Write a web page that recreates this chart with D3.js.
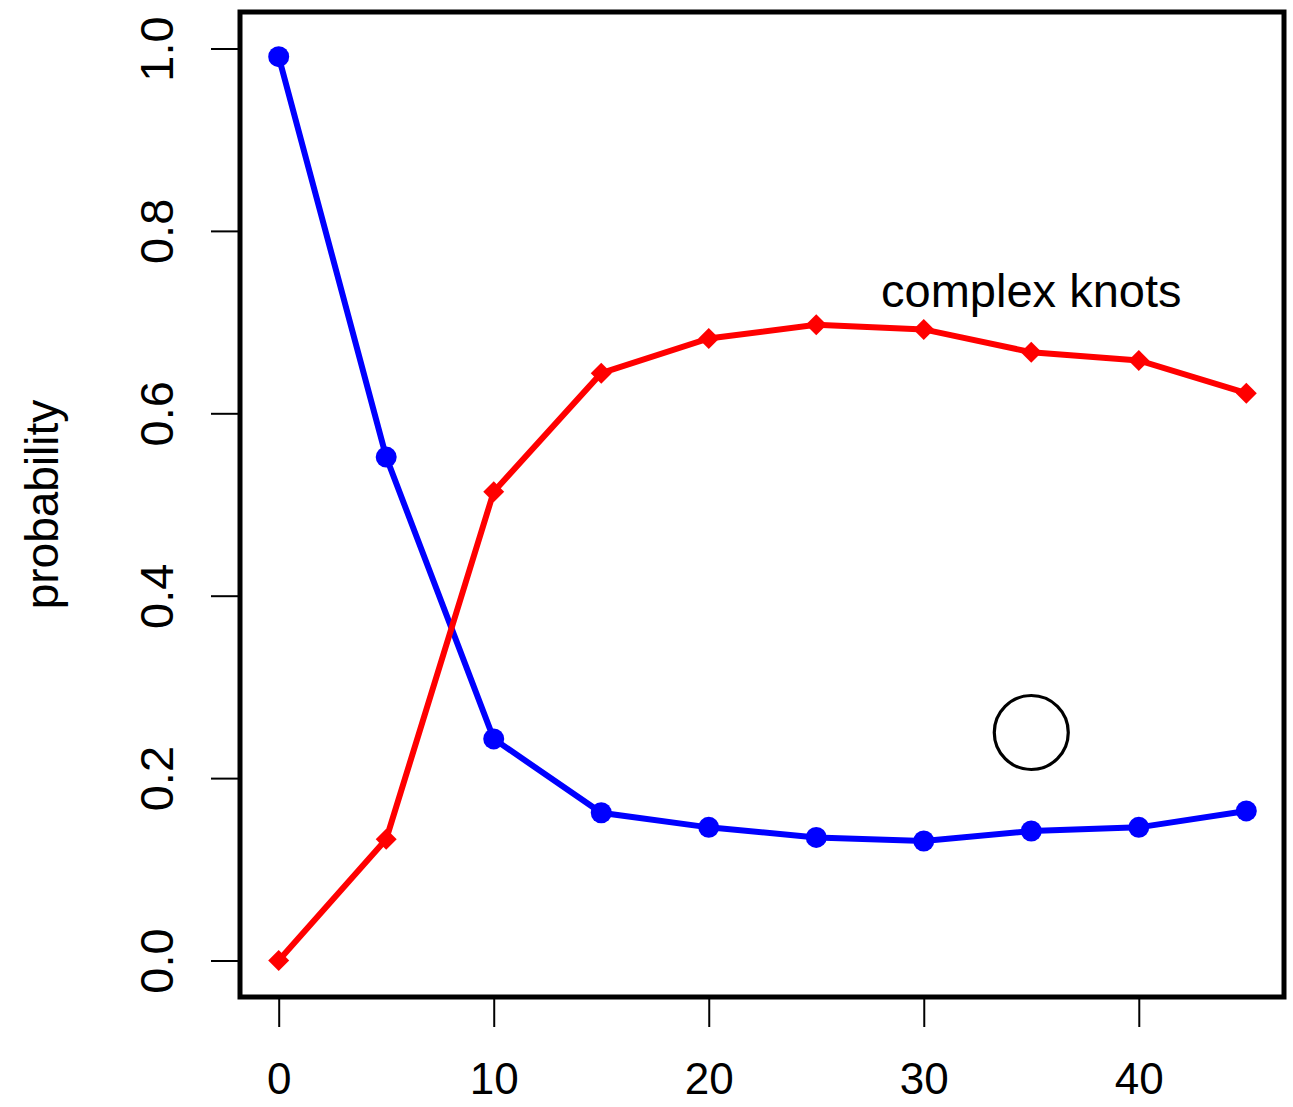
<!DOCTYPE html>
<html>
<head>
<meta charset="utf-8">
<script src="https://cdn.jsdelivr.net/npm/d3@7"></script>
<style>
  body { margin: 0; background: #fff; }
  text { font-family: 'Liberation Sans', Arial, sans-serif; fill: #000; }
</style>
</head>
<body>
<div id="chart"></div>
<script>
var steps = [0, 5, 10, 15, 20, 25, 30, 35, 40, 45];
var simple = [0.991, 0.552, 0.243, 0.162, 0.146, 0.135, 0.131, 0.142, 0.146, 0.164];
var complexKnots = [0.0, 0.133, 0.514, 0.644, 0.682, 0.697, 0.692, 0.667, 0.658, 0.622];
var xTicks = [0, 10, 20, 30, 40];
var yTicks = [0, 0.2, 0.4, 0.6, 0.8, 1.0];
var label = { text: 'complex knots', x: 35, y: 0.735 };
var marker = { x: 35, y: 0.25 };

var W = 1293, H = 1107;
var box = { left: 240, right: 1284, top: 12, bottom: 997 };

var svg = d3.select('#chart')
  .append('svg')
    .attr('width', W)
    .attr('height', H);

// R style: data range padded by 4%
var x = d3.scaleLinear().domain([-1.8, 46.8]).range([box.left, box.right + 1]);
var y = d3.scaleLinear().domain([-0.04, 1.04]).range([box.bottom, box.top]);

// x axis
var xAxis = svg.append('g')
  .attr('transform', `translate(0, ${box.bottom})`)
  .call(d3.axisBottom(x).tickValues(xTicks).tickSize(30).tickPadding(36).tickFormat(d3.format('d')));
xAxis.select('.domain').remove();
xAxis.selectAll('line').attr('stroke-width', 2);
xAxis.selectAll('text').attr('font-size', 44).attr('font-family', null);

// y axis, labels turned like R's las = 0
var yAxis = svg.append('g')
  .attr('transform', `translate(${box.left}, 0)`)
  .call(d3.axisLeft(y).tickValues(yTicks).tickSize(29).tickFormat(d3.format('.1f')));
yAxis.select('.domain').remove();
yAxis.selectAll('line').attr('stroke-width', 2);
yAxis.selectAll('text')
  .attr('font-size', 47)
  .attr('font-family', null)
  .attr('x', null).attr('dy', null)
  .attr('text-anchor', 'middle')
  .attr('transform', 'translate(-67, 0) rotate(-90)');

svg.append('text')
  .attr('transform', `translate(58, ${(box.top + box.bottom) / 2}) rotate(-90)`)
  .attr('text-anchor', 'middle')
  .attr('font-size', 46)
  .text('probability');

var line = d3.line()
  .x((d, i) => x(steps[i]))
  .y(d => y(d));

svg.append('path')
  .datum(simple)
  .attr('fill', 'none')
  .attr('stroke', '#0000ff')
  .attr('stroke-width', 6)
  .attr('d', line);

svg.append('path')
  .datum(complexKnots)
  .attr('fill', 'none')
  .attr('stroke', '#ff0000')
  .attr('stroke-width', 6)
  .attr('d', line);

svg.selectAll('.dot')
  .data(simple)
  .enter()
    .append('circle')
    .attr('class', 'dot')
    .attr('cx', (d, i) => x(steps[i]))
    .attr('cy', d => y(d))
    .attr('r', 10.5)
    .attr('fill', '#0000ff');

var diamond = d3.symbol().type(d3.symbolSquare).size(220);
svg.selectAll('.diamond')
  .data(complexKnots)
  .enter()
    .append('path')
    .attr('class', 'diamond')
    .attr('d', diamond)
    .attr('fill', '#ff0000')
    .attr('transform', (d, i) => `translate(${x(steps[i])}, ${y(d)}) rotate(45)`);

svg.append('text')
  .attr('x', x(label.x))
  .attr('y', y(label.y))
  .attr('dy', '0.35em')
  .attr('text-anchor', 'middle')
  .attr('font-size', 47)
  .text(label.text);

svg.append('circle')
  .attr('cx', x(marker.x))
  .attr('cy', y(marker.y))
  .attr('r', 37)
  .attr('fill', 'none')
  .attr('stroke', '#000')
  .attr('stroke-width', 3.2);

// frame drawn last
svg.append('rect')
  .attr('x', box.left)
  .attr('y', box.top)
  .attr('width', box.right - box.left)
  .attr('height', box.bottom - box.top)
  .attr('fill', 'none')
  .attr('stroke', '#000')
  .attr('stroke-width', 5);
</script>
</body>
</html>
